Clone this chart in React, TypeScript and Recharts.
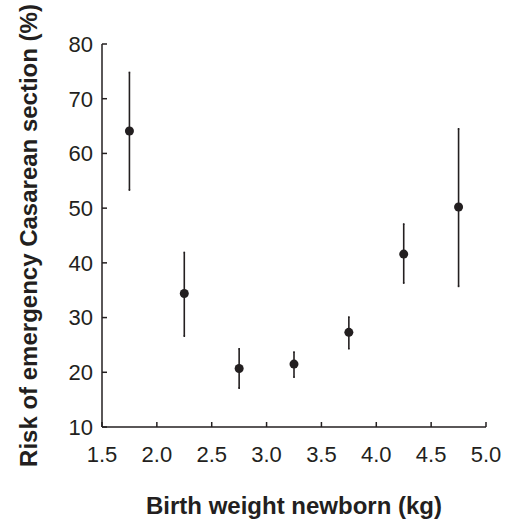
import { ScatterChart, Scatter, XAxis, YAxis, ErrorBar, Label } from 'recharts';

const weights = [1.75, 2.25, 2.75, 3.25, 3.75, 4.25, 4.75];
const risk = [64.1, 34.4, 20.7, 21.5, 27.3, 41.6, 50.2];
const lower = [53.3, 26.6, 17.1, 19.1, 24.3, 36.3, 35.7];
const upper = [74.8, 41.9, 24.3, 23.7, 30.1, 47.1, 64.5];
const xTicks = [1.5, 2.0, 2.5, 3.0, 3.5, 4.0, 4.5, 5.0];
const yTicks = [10, 20, 30, 40, 50, 60, 70, 80];

const data = weights.map((w, i) => ({
  w,
  risk: risk[i],
  err: [risk[i] - lower[i], upper[i] - risk[i]],
}));

const ink = '#231f20';
const font = '"Liberation Sans", Arial, Helvetica, sans-serif';

export default function App() {
  return (
    <div style={{ position: 'absolute', left: 0, top: 0, width: 509, height: 520, background: '#fff' }}>
      <ScatterChart width={509} height={520} margin={{ top: 44, right: 23, bottom: 0, left: 22 }}>
        <XAxis
          xAxisId="top"
          orientation="top"
          type="number"
          dataKey="w"
          domain={[1.5, 5]}
          height={0}
          tick={false}
          tickLine={false}
          axisLine={{ stroke: ink, strokeWidth: 1.5 }}
        />
        <YAxis
          yAxisId="right"
          orientation="right"
          type="number"
          dataKey="risk"
          domain={[10, 80]}
          width={0}
          tick={false}
          tickLine={false}
          axisLine={{ stroke: ink, strokeWidth: 1.5 }}
        />
        <XAxis
          type="number"
          dataKey="w"
          domain={[1.5, 5]}
          ticks={xTicks}
          tickFormatter={(v: number) => v.toFixed(1)}
          height={93}
          tickSize={-5}
          tickMargin={24}
          tick={{ fill: ink, fontSize: 22, fontFamily: font }}
          axisLine={{ stroke: ink, strokeWidth: 1.5 }}
          tickLine={{ stroke: ink, strokeWidth: 1.5 }}
        >
          <Label
            content={({ viewBox }: any) => (
              <text
                x={viewBox.x + viewBox.width / 2}
                y={viewBox.y + 87}
                textAnchor="middle"
                fill={ink}
                fontSize={24}
                fontWeight="bold"
                fontFamily={font}
              >
                Birth weight newborn (kg)
              </text>
            )}
          />
        </XAxis>
        <YAxis
          type="number"
          dataKey="risk"
          domain={[10, 80]}
          ticks={yTicks}
          width={80}
          tickSize={-5}
          tickMargin={14}
          tick={{ fill: ink, fontSize: 22, fontFamily: font }}
          axisLine={{ stroke: ink, strokeWidth: 1.5 }}
          tickLine={{ stroke: ink, strokeWidth: 1.5 }}
        >
          <Label
            content={({ viewBox }: any) => {
              const cx = viewBox.x + 15;
              const cy = viewBox.y + viewBox.height / 2;
              return (
                <text
                  x={cx}
                  y={cy}
                  transform={`rotate(-90 ${cx} ${cy})`}
                  textAnchor="middle"
                  fill={ink}
                  fontSize={24}
                  fontWeight="bold"
                  fontFamily={font}
                >
                  Risk of emergency Casarean section (%)
                </text>
              );
            }}
          />
        </YAxis>
        <Scatter data={data} fill={ink} isAnimationActive={false} shape={(p: any) => <circle cx={p.cx} cy={p.cy} r={4.5} fill={ink} />}>
          <ErrorBar dataKey="err" direction="y" width={0.8} stroke={ink} strokeWidth={1.6} isAnimationActive={false} />
        </Scatter>
      </ScatterChart>
    </div>
  );
}
